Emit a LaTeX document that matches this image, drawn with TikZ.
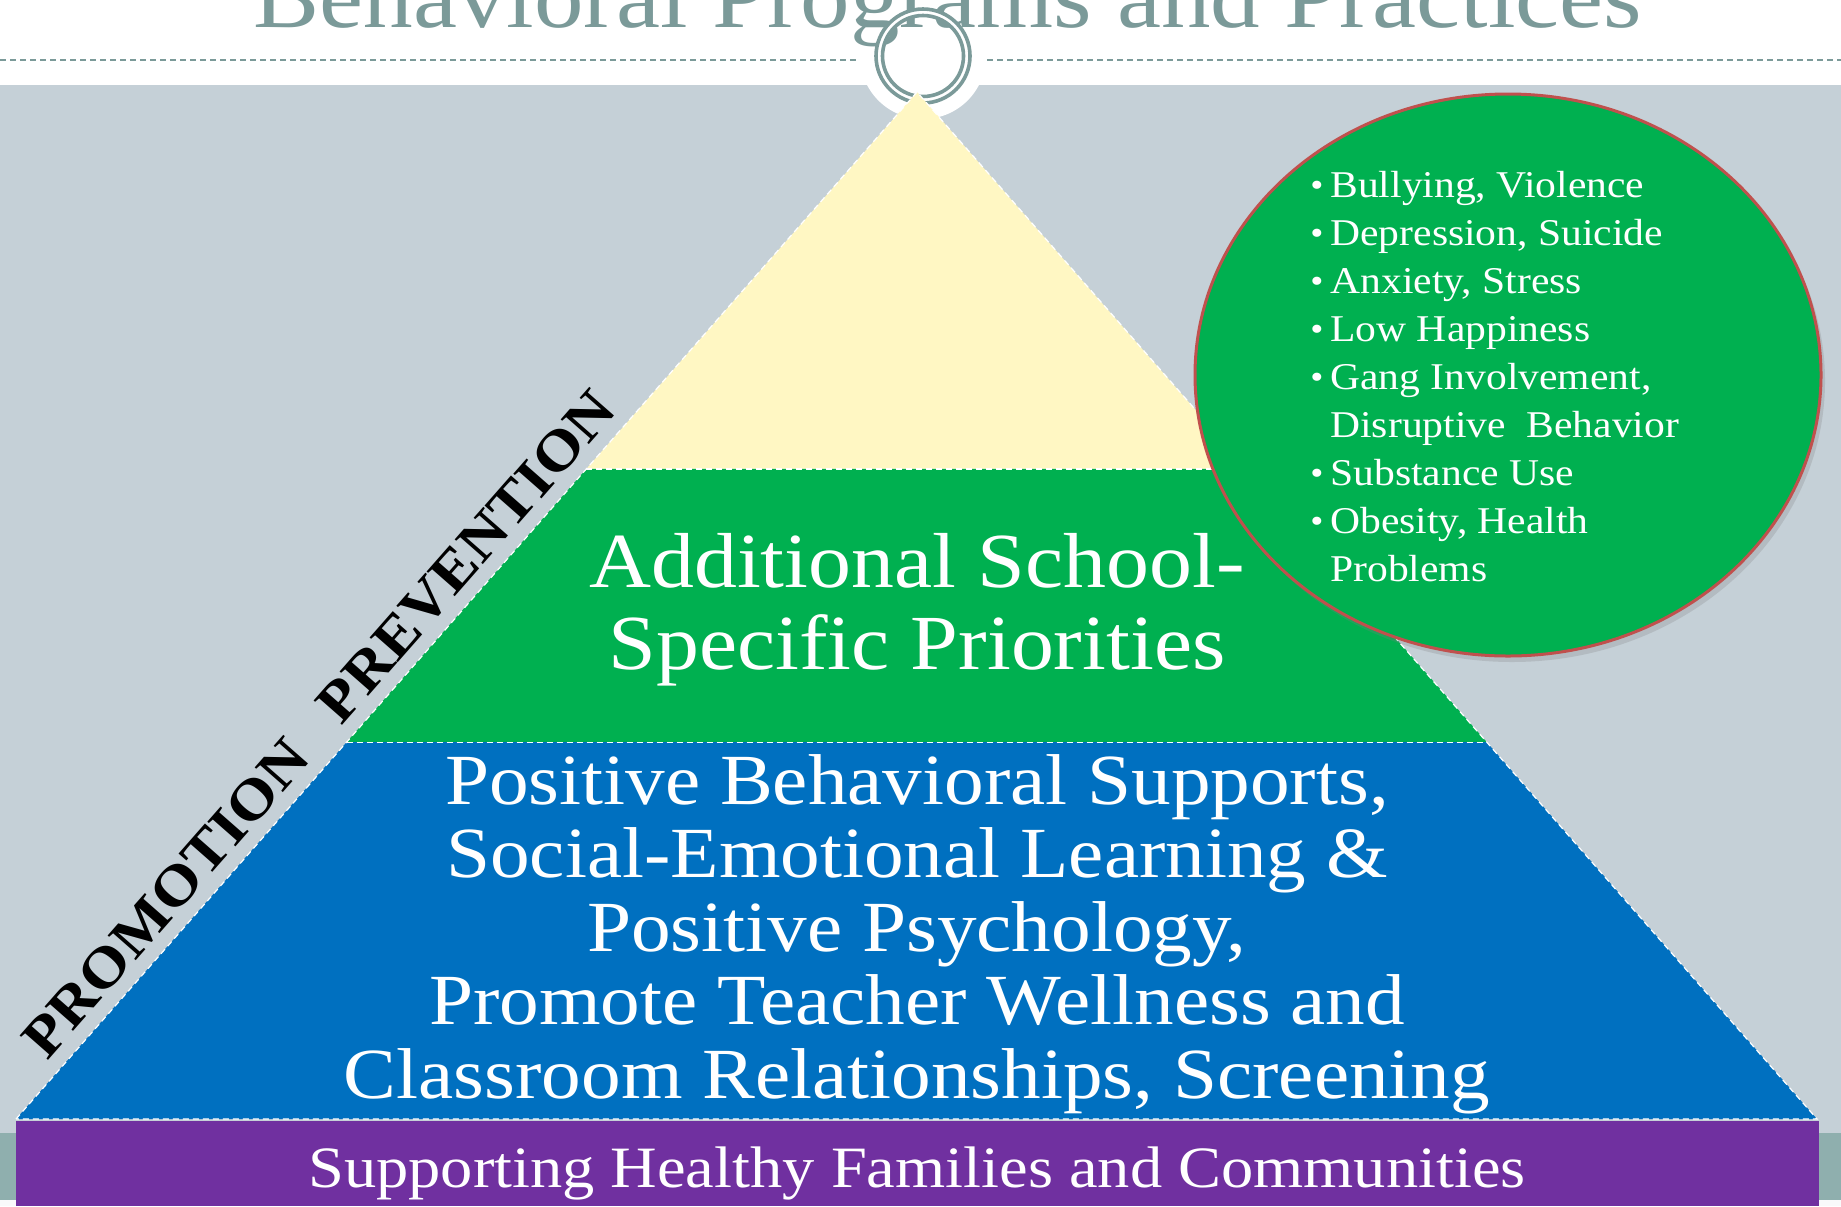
\documentclass[tikz,border=0pt]{standalone}
\usepackage{fontspec}
\setmainfont[FakeStretch=1.1]{Liberation Serif}
\usepackage{tikz}
\usetikzlibrary{positioning,calc,shapes.geometric,shadows}

\definecolor{slidegrey}{HTML}{C5D0D7}
\definecolor{titleteal}{HTML}{7B9A99}
\definecolor{stripteal}{HTML}{8FAFAE}
\definecolor{tierpale}{HTML}{FFF7C3}
\definecolor{tiergreen}{HTML}{00B050}
\definecolor{tierblue}{HTML}{0070C0}
\definecolor{tierpurple}{HTML}{7030A0}
\definecolor{rimred}{HTML}{C0504D}

\newcommand{\blt}{\makebox[10pt][l]{\raisebox{0.5pt}{\fontsize{17pt}{17pt}\selectfont\textbullet}}}

\begin{document}
\begin{tikzpicture}[x=0.5pt, y=-0.5pt, every node/.style={text=white, inner sep=0pt}]
\tikzset{
  tier/.style={draw=white, densely dashed, line width=0.6pt},
  tiertext/.style={align=center, anchor=base},
}
\useasboundingbox (0,0) rectangle (1841,1206);

% slide background
\fill[white] (0,0) rectangle (1841,1206);
\fill[slidegrey] (0,85) rectangle (1841,1206);
\fill[stripteal] (0,1133) rectangle (1841,1200);
\fill[white!90!slidegrey] (0,1200) rectangle (1841,1206);
\fill[white] (923,56) circle[radius=63];

% title and ring
\node[text=titleteal, anchor=base, font=\fontsize{45pt}{50pt}\selectfont] (title) at (948,27) {Behavioral Programs and Practices};
\draw[titleteal, densely dashed, line width=0.8pt] (0,60) -- (858,60) (987,60) -- (1841,60);
\draw[white, line width=4pt] (923,56) circle[radius=44];
\draw[titleteal, line width=1.8pt] (923,56) circle[radius=47];
\draw[titleteal, line width=1.8pt] (923,56) circle[radius=40.5];

% pyramid
\coordinate (apex) at (917,92);
\coordinate (baseL) at (16,1119);
\coordinate (baseR) at (1817,1119);
\coordinate (topL) at ($(apex)!0.367!(baseL)$);
\coordinate (topR) at ($(apex)!0.367!(baseR)$);
\coordinate (midL) at ($(apex)!0.633!(baseL)$);
\coordinate (midR) at ($(apex)!0.633!(baseR)$);

\fill[tierpale] (apex) -- (topL) -- (topR) -- cycle;
\fill[tiergreen] (topL) -- (midL) -- (midR) -- (topR) -- cycle;
\fill[tierblue] (midL) -- (baseL) -- (baseR) -- (midR) -- cycle;
\draw[tier] (baseL) -- (apex) -- (baseR) -- cycle;
\draw[tier] (topL) -- (topR) (midL) -- (midR);

\fill[tierpurple] (16,1121) rectangle (1819,1206);

% tier labels (base = last line)
\node[tiertext, font=\fontsize{39pt}{41pt}\selectfont] (school) at (917,669) {Additional School-\\Specific Priorities};
\node[tiertext, font=\fontsize{36pt}{36.75pt}\selectfont] (core) at (917,1098) {Positive Behavioral Supports,\\Social-Emotional Learning \&\\Positive Psychology,\\Promote Teacher Wellness and\\Classroom Relationships, Screening};
\node[tiertext, font=\fontsize{29.3pt}{30pt}\selectfont] (families) at (917,1187) {Supporting Healthy Families and Communities};

\node[rotate=48.7, anchor=base, text=black, font=\fontsize{28.6pt}{30pt}\selectfont\bfseries] (levels) at (333,736) {PROMOTION\hspace{22pt}PREVENTION};

% risk bubble
\node[ellipse, fill=tiergreen, draw=rimred, line width=1.5pt, minimum width=313pt, minimum height=281pt,
  drop shadow={opacity=0.25, shadow xshift=2pt, shadow yshift=-3pt}] (risks) at (1508,375) {};
\node[align=left, anchor=base west, font=\fontsize{18.9pt}{24pt}\selectfont] (risklist) at (1310,581) {\blt Bullying, Violence\\
\blt Depression, Suicide\\
\blt Anxiety, Stress\\
\blt Low Happiness\\
\blt Gang Involvement,\\
\hspace*{10pt}Disruptive\ \ Behavior\\
\blt Substance Use\\
\blt Obesity, Health\\
\hspace*{10pt}Problems};

\end{tikzpicture}
\end{document}
